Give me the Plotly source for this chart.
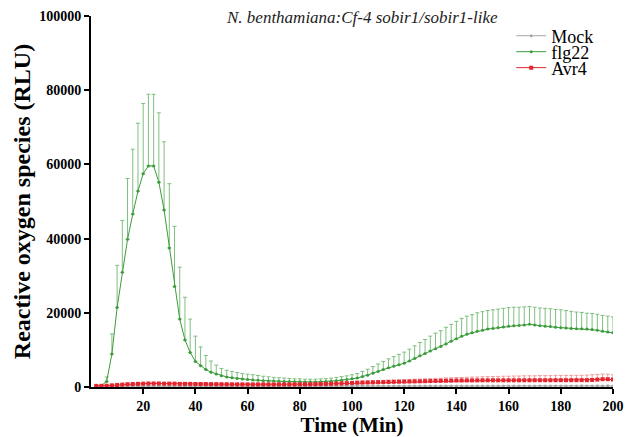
import plotly.graph_objects as go

# time points (min)
time = list(range(2, 201, 2))

mock = [220, 240, 250, 260, 250, 240, 250, 260, 270, 260,
        250, 260, 250, 240, 250, 260, 250, 240, 250, 250,
        240, 250, 260, 250, 240, 250, 250, 260, 250, 240,
        250, 250, 240, 250, 260, 250, 240, 250, 250, 260,
        250, 240, 250, 260, 250, 250, 240, 250, 260, 250,
        260, 250, 260, 270, 260, 250, 260, 270, 260, 270,
        270, 260, 270, 280, 270, 270, 280, 270, 280, 280,
        280, 270, 280, 290, 280, 280, 290, 280, 290, 290,
        290, 280, 290, 300, 290, 290, 300, 290, 300, 300,
        300, 290, 300, 310, 300, 300, 310, 300, 310, 300]
mock_sd = [80] * 100

flg22 = [300, 400, 1500, 8900, 21400, 30900, 39800, 46600, 52800, 57500,
         59600, 59600, 55200, 47700, 37500, 27100, 18300, 12700, 9300, 6900,
         5700, 4700, 4000, 3500, 3000, 2700, 2500, 2300, 2150, 2000,
         1900, 1800, 1700, 1650, 1600, 1550, 1500, 1450, 1400, 1400,
         1350, 1350, 1350, 1400, 1450, 1550, 1700, 1850, 2000, 2200,
         2400, 2800, 3200, 3700, 4200, 4700, 5200, 5600, 6000, 6400,
         7000, 7700, 8400, 9000, 9700, 10300, 10900, 11600, 12300, 13000,
         13700, 14200, 14600, 15000, 15300, 15600, 15800, 16000, 16200, 16400,
         16500, 16600, 16700, 16900, 16700, 16500, 16400, 16300, 16100, 16000,
         15900, 15800, 15700, 15700, 15600, 15500, 15300, 15000, 14800, 14600]
flg22_sd = [200, 300, 1200, 5400, 11400, 14000, 16400, 17500, 18300, 18900,
            19300, 19300, 18700, 18400, 17300, 16200, 14000, 11500, 9000, 6800,
            5100, 3800, 3000, 2400, 2000, 1800, 1700, 1600, 1500, 1450,
            1400, 1300, 1200, 1100, 1000, 950, 900, 850, 800, 800,
            750, 750, 750, 800, 800, 850, 900, 950, 1000, 1100,
            1200, 1400, 1600, 1800, 2000, 2200, 2400, 2600, 2800, 3000,
            3200, 3400, 3600, 3800, 4000, 4200, 4300, 4500, 4600, 4700,
            4800, 4900, 4900, 5000, 5000, 5000, 5000, 5000, 5000, 5000,
            5000, 4900, 4900, 4800, 4800, 4800, 4800, 4800, 4800, 4800,
            4700, 4600, 4500, 4400, 4300, 4300, 4300, 4300, 4300, 4300]

avr4 = [300, 300, 350, 450, 550, 650, 750, 800, 850, 900,
        950, 950, 950, 900, 900, 900, 850, 850, 850, 800,
        800, 800, 780, 760, 750, 740, 730, 720, 710, 700,
        700, 700, 700, 690, 690, 700, 700, 700, 710, 720,
        730, 750, 770, 800, 830, 870, 920, 970, 1030, 1100,
        1150, 1200, 1230, 1260, 1300, 1330, 1360, 1390, 1420, 1450,
        1480, 1510, 1540, 1570, 1600, 1630, 1660, 1690, 1720, 1750,
        1760, 1770, 1780, 1790, 1800, 1800, 1800, 1800, 1800, 1800,
        1800, 1800, 1810, 1810, 1820, 1820, 1820, 1820, 1830, 1830,
        1830, 1840, 1840, 1850, 1850, 1900, 2000, 2100, 2100, 2000]
avr4_sd = [150, 150, 150, 200, 200, 250, 250, 250, 250, 250,
           250, 250, 250, 250, 250, 250, 250, 250, 250, 250,
           250, 250, 250, 250, 250, 250, 250, 250, 250, 250,
           250, 250, 250, 250, 250, 250, 250, 250, 250, 250,
           250, 250, 250, 300, 300, 300, 300, 350, 350, 350,
           400, 400, 400, 450, 450, 450, 500, 500, 500, 550,
           550, 600, 600, 650, 650, 700, 700, 750, 750, 800,
           800, 850, 900, 900, 950, 1000, 1000, 1050, 1100, 1100,
           1150, 1150, 1200, 1200, 1200, 1250, 1250, 1250, 1300, 1300,
           1300, 1300, 1300, 1300, 1350, 1400, 1400, 1400, 1350, 1300]

x_ticks = [20, 40, 60, 80, 100, 120, 140, 160, 180, 200]
y_ticks = [0, 20000, 40000, 60000, 80000, 100000]

zeros = [0] * len(time)
serif = "Liberation Serif"

fig = go.Figure()

fig.add_trace(go.Scatter(
    x=time, y=mock, name="Mock", mode="lines+markers", legend="legend",
    line=dict(color="#a6a6a6", width=1),
    marker=dict(color="#a6a6a6", size=3, symbol="circle"),
    error_y=dict(type="data", symmetric=False, array=mock_sd, arrayminus=zeros,
                 color="#c8c8c8", thickness=1, width=1.5),
))
fig.add_trace(go.Scatter(
    x=time, y=flg22, name="flg22", mode="lines+markers", legend="legend2",
    line=dict(color="#3c9c3c", width=1),
    marker=dict(color="#3c9c3c", size=3, symbol="circle"),
    error_y=dict(type="data", symmetric=False, array=flg22_sd, arrayminus=zeros,
                 color="#7fbf7f", thickness=1, width=2),
))
fig.add_trace(go.Scatter(
    x=time, y=avr4, name="Avr4", mode="lines+markers", legend="legend3",
    line=dict(color="#e3262e", width=1),
    marker=dict(color="#e3262e", size=4, symbol="square"),
    error_y=dict(type="data", symmetric=False, array=avr4_sd, arrayminus=zeros,
                 color="#f19a9a", thickness=1, width=2),
))

leg = dict(x=0.805, xanchor="left", yanchor="middle",
           font=dict(family=serif, size=18, color="black"),
           bgcolor="rgba(0,0,0,0)", itemwidth=30)

fig.update_layout(
    width=625, height=437,
    margin=dict(l=91, r=12, t=16, b=50),
    plot_bgcolor="white", paper_bgcolor="white",
    font=dict(family=serif, color="black"),
    showlegend=True,
    legend=dict(leg, y=0.946),
    legend2=dict(leg, y=0.903),
    legend3=dict(leg, y=0.860),
    annotations=[dict(
        text="<i>N. benthamiana:Cf-4 sobir1/sobir1-like</i>",
        x=0.519, y=0.995, xref="paper", yref="paper", xanchor="center", yanchor="middle",
        showarrow=False, font=dict(family=serif, size=17, color="#222"),
    )],
)

fig.update_xaxes(
    range=[0, 200], tickvals=x_ticks, automargin=False, ticklabeloverflow="allow",
    showgrid=False, zeroline=False,
    showline=True, linecolor="black", linewidth=2,
    ticks="outside", ticklen=5, tickwidth=1.5, tickcolor="black",
    tickfont=dict(family=serif, size=14, color="black", weight="bold"),
    title=dict(text="<b>Time (Min)</b>", font=dict(family=serif, size=21), standoff=0),
)
fig.update_yaxes(
    range=[0, 100000], tickvals=y_ticks, tickformat="d", automargin=False,
    showgrid=False, zeroline=False,
    showline=True, linecolor="black", linewidth=2,
    ticks="outside", ticklen=5, tickwidth=1.5, tickcolor="black",
    tickfont=dict(family=serif, size=14, color="black", weight="bold"),
    title=dict(text="<b>Reactive oxygen species (RLU)</b>", font=dict(family=serif, size=24), standoff=2),
)

# drop the default page margin so the figure fills the window exactly
fig.write_html("out.html", config={"displayModeBar": False},
               post_script="document.body.style.margin='0';document.body.style.overflow='hidden';")
